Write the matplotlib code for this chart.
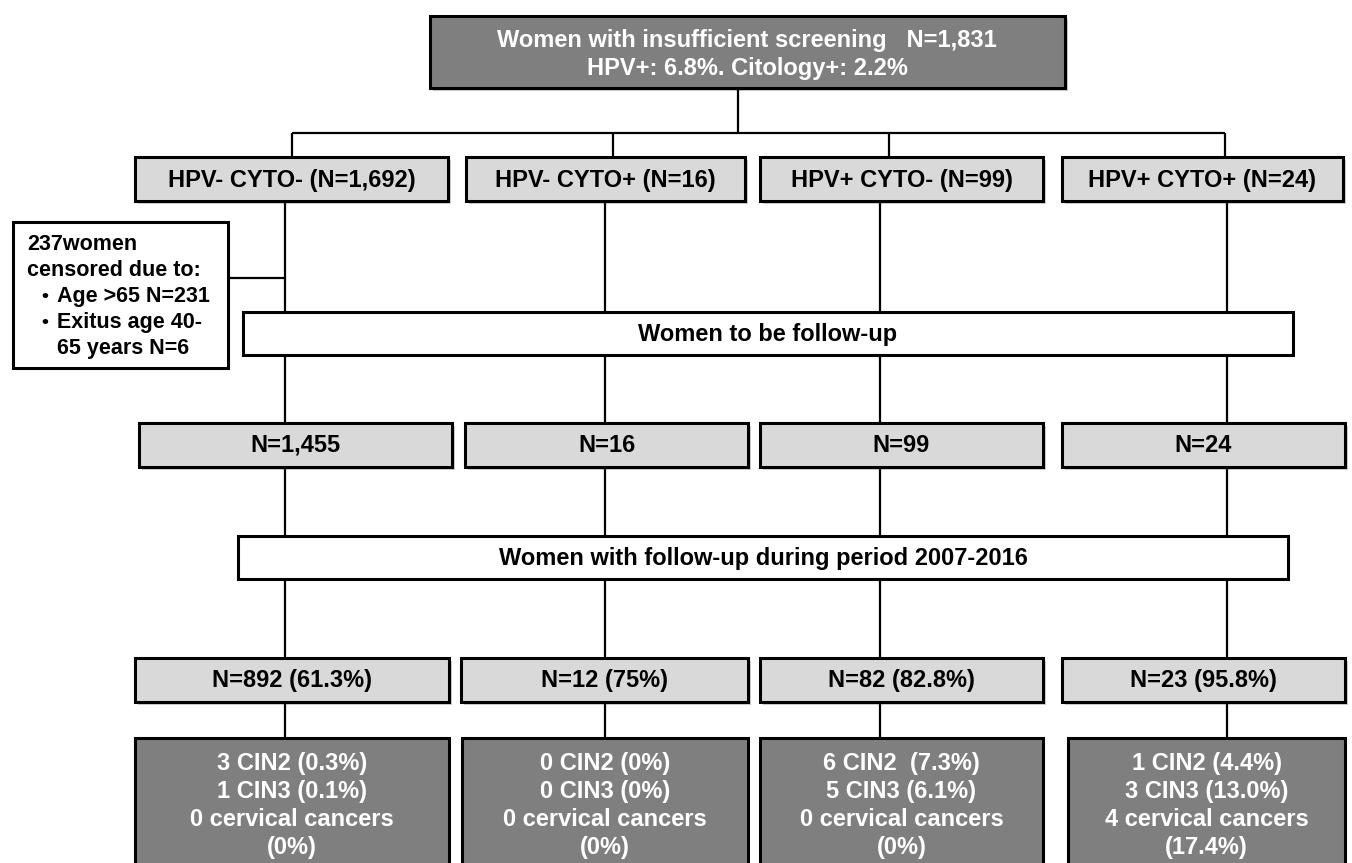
import matplotlib
matplotlib.use("Agg")
import matplotlib.pyplot as plt
from matplotlib.patches import Rectangle
import matplotlib.patheffects as pe

plt.rcParams['font.family'] = ['Liberation Sans', 'DejaVu Sans']

# ---------------- data (texts / values) ----------------
top_title = "Women with insufficient screening   N=1,831"
top_sub = "HPV+: 6.8%. Citology+: 2.2%"
groups = ["HPV- CYTO- (N=1,692)", "HPV- CYTO+ (N=16)", "HPV+ CYTO- (N=99)", "HPV+ CYTO+ (N=24)"]
censor_lines = ["237women", "censored due to:"]
censor_bullets = ["Age >65 N=231", "Exitus age 40-"]
censor_cont = "65 years N=6"
stage1_label = "Women to be follow-up"
n_followup = ["N=1,455", "N=16", "N=99", "N=24"]
stage2_label = "Women with follow-up during period 2007-2016"
n_with_fu = ["N=892 (61.3%)", "N=12 (75%)", "N=82 (82.8%)", "N=23 (95.8%)"]
cin2 = ["3 CIN2 (0.3%)", "0 CIN2 (0%)", "6 CIN2  (7.3%)", "1 CIN2 (4.4%)"]
cin3 = ["1 CIN3 (0.1%)", "0 CIN3 (0%)", "5 CIN3 (6.1%)", "3 CIN3 (13.0%)"]
cancers = ["0 cervical cancers", "0 cervical cancers", "0 cervical cancers", "4 cervical cancers"]
cancer_pct = ["(0%)", "(0%)", "(0%)", "(17.4%)"]

# ---------------- layout (pixels) ----------------
W, H = 1352, 863
DARK = "#7f7f7f"
LIGHT = "#d9d9d9"
FS = 17

fig = plt.figure(figsize=(W / 100, H / 100), dpi=100)
ax = fig.add_axes([0, 0, 1, 1])
ax.set_xlim(0, W)
ax.set_ylim(H, 0)
ax.axis("off")

shadow = [pe.SimplePatchShadow(offset=(2, -2), alpha=0.25), pe.Normal()]


def box(x0, x1, y0, y1, fc, lw=2.2, sh=True):
    r = Rectangle((x0, y0), x1 - x0, y1 - y0, facecolor=fc, edgecolor="black",
                  linewidth=lw, zorder=3)
    if sh:
        r.set_path_effects(shadow)
    ax.add_patch(r)


def line(xs, ys, lw=1.6):
    ax.plot(xs, ys, color="black", lw=lw, zorder=1, solid_capstyle="butt")


def ctext(x, y, s, color="black", fs=FS):
    ax.text(x, y, s, ha="center", va="center", fontsize=fs, fontweight="bold",
            color=color, zorder=5)


# top box
box(430, 1065, 16, 88, DARK)
ctext(747, 40, top_title, color="white")
ctext(747, 69, top_sub, color="white")

# connector from top
line([738, 738], [88, 133])
drop_x = [292, 613, 889, 1225]
line([drop_x[0], drop_x[-1]], [133, 133])
for dx in drop_x:
    line([dx, dx], [133, 157])

# row 2 groups
row2_x = [(135, 448), (466, 745), (760, 1043), (1062, 1343)]
col_x = [285, 605, 880, 1227]
for (x0, x1), lab in zip(row2_x, groups):
    box(x0, x1, 157, 201, LIGHT)
    ctext((x0 + x1) / 2, 180, lab)

# censored box
box(13, 228, 222, 368, "white", sh=False)
line([228, col_x[0]], [278, 278])
ax.text(27, 244, censor_lines[0], ha="left", va="center", fontsize=15.5,
        fontweight="bold", zorder=5)
ax.text(27, 270, censor_lines[1], ha="left", va="center", fontsize=15.5,
        fontweight="bold", zorder=5)
for i, b in enumerate(censor_bullets):
    yy = 296 + 26 * i
    ax.text(41, yy, "\u2022", ha="left", va="center", fontsize=14,
            fontweight="bold", zorder=5)
    ax.text(57, yy, b, ha="left", va="center", fontsize=15.5,
            fontweight="bold", zorder=5)
ax.text(57, 348, censor_cont, ha="left", va="center", fontsize=15.5,
        fontweight="bold", zorder=5)

# vertical column lines
for cx in col_x:
    line([cx, cx], [201, 423])
    line([cx, cx], [467, 658])
    line([cx, cx], [702, 738])

# stage 1 wide box
box(243, 1293, 312, 355, "white", sh=False)
ctext(768, 334, stage1_label)

# row 3
row3_x = [(139, 452), (465, 748), (760, 1043), (1062, 1345)]
for (x0, x1), lab in zip(row3_x, n_followup):
    box(x0, x1, 423, 467, LIGHT)
    ctext((x0 + x1) / 2, 445, lab)

# stage 2 wide box
box(238, 1288, 536, 579, "white", sh=False)
ctext(763, 558, stage2_label)

# row 4
row4_x = [(135, 449), (461, 748), (760, 1043), (1062, 1345)]
for (x0, x1), lab in zip(row4_x, n_with_fu):
    box(x0, x1, 658, 702, LIGHT)
    ctext((x0 + x1) / 2, 680, lab)

# row 5 outcome boxes
row5_x = [(135, 449), (462, 748), (760, 1043), (1068, 1345)]
for i, (x0, x1) in enumerate(row5_x):
    box(x0, x1, 738, 880, DARK, sh=False)
    cx = (x0 + x1) / 2
    for j, s in enumerate([cin2[i], cin3[i], cancers[i], cancer_pct[i]]):
        ctext(cx, 763 + 28 * j, s, color="white")

fig.savefig("out.png", dpi=100, facecolor="white")
